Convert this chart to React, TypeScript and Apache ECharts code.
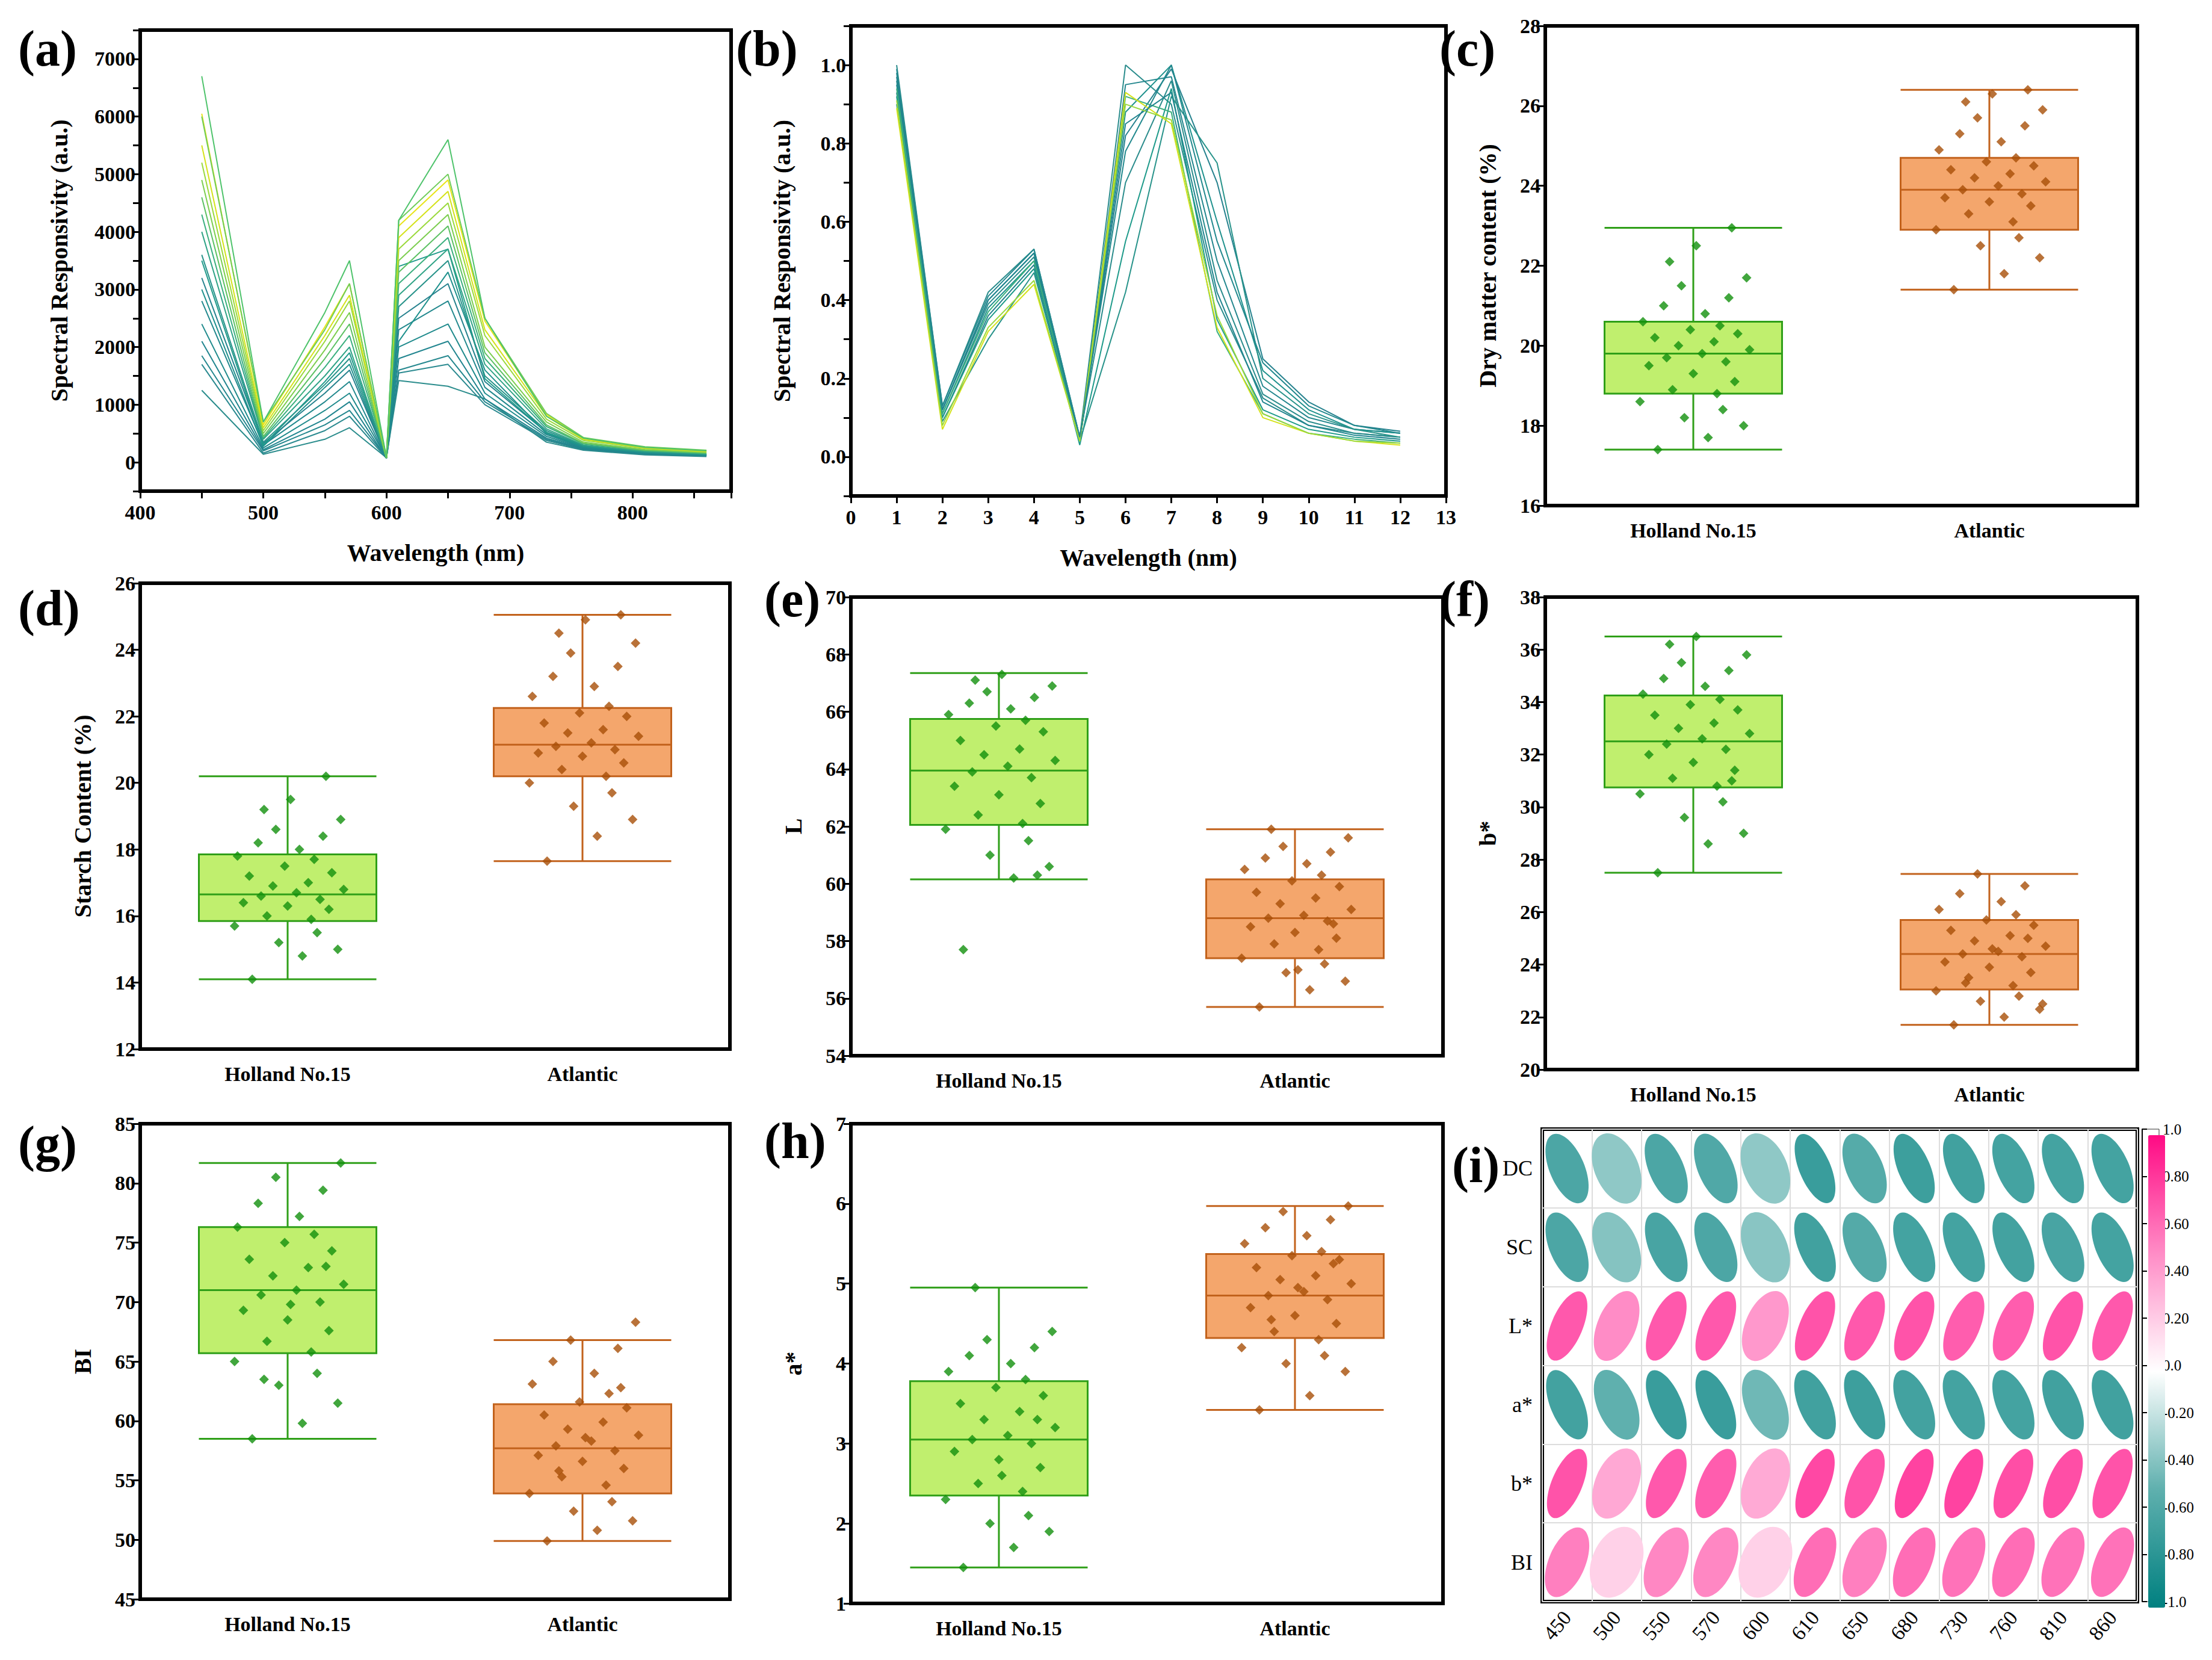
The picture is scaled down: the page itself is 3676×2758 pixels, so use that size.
import React, { useEffect, useRef } from 'react';
import * as echarts from 'echarts';

// ---- (a) raw spectra ----
const wavelengths = [450, 500, 550, 570, 600, 610, 650, 680, 730, 760, 810, 860];
const rawSpectra = [
  [1250, 140, 400, 600, 80, 1420, 1320, 1100, 350, 210, 130, 100],
  [1700, 160, 550, 800, 70, 1550, 1700, 1000, 380, 220, 140, 110],
  [1850, 200, 650, 900, 80, 1600, 1850, 1050, 400, 230, 150, 120],
  [2100, 220, 750, 1050, 70, 1800, 2100, 1100, 420, 240, 150, 120],
  [2400, 250, 900, 1200, 80, 2000, 2400, 1200, 450, 250, 160, 130],
  [2800, 300, 1050, 1400, 70, 2300, 2800, 1300, 480, 260, 170, 130],
  [3000, 280, 1300, 1700, 70, 2100, 3300, 1600, 500, 270, 170, 130],
  [3200, 330, 1200, 1600, 80, 2500, 3100, 1400, 520, 280, 180, 140],
  [3500, 300, 1400, 1900, 80, 3400, 3700, 1450, 520, 280, 170, 130],
  [3600, 350, 1350, 1800, 70, 2700, 3500, 1500, 550, 290, 180, 140],
  [4000, 400, 1500, 2000, 80, 2900, 3700, 1700, 580, 300, 190, 150],
  [4300, 420, 1650, 2200, 90, 3100, 3900, 1800, 620, 320, 200, 150],
  [4600, 450, 1800, 2400, 80, 3300, 4100, 1900, 650, 330, 210, 160],
  [4900, 500, 1950, 2600, 80, 3500, 4300, 2000, 700, 350, 220, 170],
  [5200, 550, 2100, 2800, 90, 3700, 4500, 2200, 750, 380, 240, 180],
  [5500, 600, 2200, 2900, 80, 3900, 4700, 2300, 800, 400, 250, 190],
  [6050, 650, 2350, 3100, 90, 4100, 4900, 2450, 830, 420, 260, 200],
  [6000, 700, 2300, 3100, 80, 4200, 5000, 2500, 850, 430, 270, 210],
  [6700, 700, 2600, 3500, 90, 4200, 5600, 2500, 800, 420, 260, 200],
];
const rawColors = [
  '#2a8c8c', '#2b8a90', '#24878e', '#21858f', '#1f8a8c', '#23898e', '#1f918d', '#26828e',
  '#1e9a8a', '#28938a', '#2fa386', '#3aaf7e', '#5cc163', '#7cce4f', '#9ad93c', '#d4e21a',
  '#e8e419', '#6fcc58', '#4ec36b',
];

// ---- (b) normalised spectra ----
const bandIndex = [1, 2, 3, 4, 5, 6, 7, 8, 9, 10, 11, 12];
const normSpectra = [
  [1.0, 0.13, 0.42, 0.53, 0.05, 1.0, 0.9, 0.4, 0.15, 0.08, 0.06, 0.05],
  [0.98, 0.12, 0.4, 0.52, 0.04, 0.95, 0.97, 0.5, 0.18, 0.1, 0.07, 0.06],
  [0.95, 0.11, 0.38, 0.5, 0.04, 0.88, 1.0, 0.6, 0.22, 0.12, 0.07, 0.06],
  [0.93, 0.1, 0.36, 0.49, 0.04, 0.82, 0.99, 0.7, 0.25, 0.14, 0.08, 0.065],
  [0.96, 0.12, 0.39, 0.51, 0.05, 0.7, 0.96, 0.45, 0.16, 0.09, 0.06, 0.05],
  [0.92, 0.1, 0.35, 0.48, 0.03, 0.55, 0.94, 0.35, 0.12, 0.07, 0.05, 0.04],
  [0.9, 0.09, 0.3, 0.47, 0.04, 0.42, 0.92, 0.75, 0.2, 0.11, 0.07, 0.05],
  [0.94, 0.11, 0.37, 0.5, 0.04, 0.92, 0.88, 0.32, 0.11, 0.06, 0.045, 0.035],
  [0.97, 0.12, 0.4, 0.52, 0.04, 0.85, 0.93, 0.42, 0.14, 0.08, 0.055, 0.045],
  [0.89, 0.07, 0.32, 0.44, 0.04, 0.93, 0.85, 0.33, 0.1, 0.06, 0.04, 0.03],
  [0.91, 0.08, 0.33, 0.45, 0.04, 0.9, 0.86, 0.36, 0.11, 0.06, 0.04, 0.035],
  [0.99, 0.13, 0.41, 0.53, 0.05, 0.78, 1.0, 0.55, 0.24, 0.13, 0.08, 0.06],
];
const normColors = [
  '#2a8c8c', '#24878e', '#1f918d', '#26828e', '#2a8c8c', '#1e9a8a', '#28938a',
  '#3aaf7e', '#21858f', '#d4e21a', '#9ad93c', '#23898e',
];

// ---- box plots ----
const groups = ['Holland No.15', 'Atlantic'];
const jitter = [-0.12, 0.05, 0.17, -0.03, 0.1, -0.18, 0.08, -0.07, 0.14, 0.0, -0.15, 0.11, -0.09, 0.03, 0.19,
  -0.05, 0.07, -0.13, 0.15, -0.01, 0.09, -0.17, 0.04, -0.1, 0.12, -0.04, 0.18, -0.08, 0.01, 0.13];

const dmcBox = [[17.4, 18.8, 19.8, 20.6, 22.95], [21.4, 22.9, 23.9, 24.7, 26.4]];
const dmcHolland = [17.4, 17.7, 18.0, 18.2, 18.4, 18.6, 18.8, 18.9, 19.1, 19.3, 19.5, 19.6, 19.7, 19.8, 19.9, 20.0, 20.1, 20.2, 20.3, 20.4, 20.5, 20.6, 20.8, 21.0, 21.2, 21.5, 21.7, 22.1, 22.5, 22.95];
const dmcAtlantic = [21.4, 21.8, 22.2, 22.5, 22.7, 22.9, 23.1, 23.3, 23.5, 23.6, 23.7, 23.8, 23.9, 24.0, 24.1, 24.2, 24.3, 24.4, 24.5, 24.6, 24.7, 24.9, 25.1, 25.3, 25.5, 25.7, 25.9, 26.1, 26.3, 26.4];

const scBox = [[14.1, 15.85, 16.65, 17.85, 20.2], [17.65, 20.2, 21.15, 22.25, 25.05]];
const scHolland = [14.1, 14.8, 15.0, 15.2, 15.5, 15.7, 15.9, 16.0, 16.2, 16.3, 16.4, 16.5, 16.6, 16.7, 16.8, 16.9, 17.0, 17.2, 17.3, 17.5, 17.7, 17.8, 18.0, 18.2, 18.4, 18.6, 18.9, 19.2, 19.5, 20.2];
const scAtlantic = [17.65, 18.4, 18.9, 19.3, 19.7, 20.0, 20.2, 20.4, 20.6, 20.8, 20.9, 21.0, 21.1, 21.2, 21.4, 21.5, 21.6, 21.8, 22.0, 22.1, 22.3, 22.6, 22.9, 23.2, 23.5, 23.9, 24.2, 24.5, 24.9, 25.05];

const lBox = [[60.15, 62.05, 63.95, 65.75, 67.35], [55.7, 57.4, 58.8, 60.15, 61.9]];
const lHolland = [57.7, 60.2, 60.6, 61.0, 61.5, 61.9, 62.1, 62.4, 62.8, 63.1, 63.4, 63.7, 63.9, 64.1, 64.3, 64.5, 64.7, 65.0, 65.3, 65.5, 65.7, 65.9, 66.1, 66.3, 66.5, 66.7, 66.9, 67.1, 67.3, 60.3];
const lAtlantic = [55.7, 56.3, 56.6, 56.9, 57.2, 57.4, 57.7, 57.9, 58.1, 58.3, 58.5, 58.7, 58.8, 58.9, 59.1, 59.3, 59.5, 59.7, 59.9, 60.1, 60.3, 60.5, 60.7, 60.9, 61.1, 61.3, 61.6, 61.9, 57.0, 58.6];

const bBox = [[27.5, 30.75, 32.5, 34.25, 36.5], [21.7, 23.05, 24.4, 25.7, 27.45]];
const bHolland = [27.5, 28.6, 29.0, 29.6, 30.2, 30.5, 30.8, 31.1, 31.4, 31.7, 32.0, 32.2, 32.4, 32.6, 32.8, 33.0, 33.2, 33.5, 33.7, 33.9, 34.1, 34.3, 34.6, 34.9, 35.2, 35.5, 35.8, 36.2, 36.5, 31.0];
const bAtlantic = [21.7, 22.0, 22.3, 22.6, 22.8, 23.0, 23.2, 23.5, 23.7, 23.9, 24.1, 24.3, 24.4, 24.5, 24.7, 24.9, 25.1, 25.3, 25.5, 25.7, 25.9, 26.1, 26.4, 26.7, 27.0, 27.45, 22.5, 23.3, 24.6, 25.0];

const biBox = [[58.5, 65.7, 71.0, 76.3, 81.7], [49.9, 53.9, 57.7, 61.4, 66.8]];
const biHolland = [58.5, 59.8, 61.5, 63.0, 64.0, 65.0, 65.8, 66.7, 67.6, 68.5, 69.3, 70.0, 70.6, 71.0, 71.5, 72.2, 72.9, 73.6, 74.3, 75.0, 75.7, 76.3, 77.2, 78.3, 79.4, 80.5, 81.7, 63.5, 69.8, 73.0];
const biAtlantic = [49.9, 50.8, 51.6, 52.4, 53.2, 53.9, 54.6, 55.3, 56.0, 56.6, 57.1, 57.5, 57.9, 58.3, 58.8, 59.3, 59.9, 60.5, 61.1, 61.6, 62.3, 63.1, 64.0, 65.0, 66.1, 66.8, 68.3, 55.8, 58.6, 62.8];

const aBox = [[1.45, 2.35, 3.05, 3.78, 4.95], [3.42, 4.32, 4.85, 5.37, 5.97]];
const aHolland = [1.45, 1.7, 1.9, 2.0, 2.1, 2.3, 2.4, 2.5, 2.7, 2.8, 2.9, 3.0, 3.05, 3.1, 3.2, 3.3, 3.4, 3.5, 3.6, 3.7, 3.8, 3.9, 4.0, 4.1, 4.2, 4.3, 4.4, 4.95, 2.6, 3.3];
const aAtlantic = [3.42, 3.6, 3.9, 4.0, 4.1, 4.2, 4.3, 4.4, 4.5, 4.6, 4.7, 4.8, 4.85, 4.9, 5.0, 5.05, 5.1, 5.2, 5.3, 5.35, 5.4, 5.5, 5.6, 5.7, 5.8, 5.9, 5.97, 4.55, 4.95, 5.25];

// ---- (i) correlation ----
const corrBands = ['450', '500', '550', '570', '600', '610', '650', '680', '730', '760', '810', '860'];
const corrTraits = ['DC', 'SC', 'L*', 'a*', 'b*', 'BI'];
const corrValues = [
  [-0.6, -0.35, -0.6, -0.58, -0.35, -0.7, -0.55, -0.68, -0.66, -0.64, -0.64, -0.64],
  [-0.6, -0.38, -0.62, -0.6, -0.37, -0.66, -0.56, -0.64, -0.64, -0.65, -0.62, -0.64],
  [0.7, 0.5, 0.7, 0.7, 0.45, 0.72, 0.7, 0.72, 0.68, 0.68, 0.72, 0.7],
  [-0.65, -0.5, -0.7, -0.7, -0.45, -0.66, -0.68, -0.65, -0.64, -0.64, -0.66, -0.66],
  [0.72, 0.38, 0.7, 0.68, 0.37, 0.76, 0.72, 0.78, 0.78, 0.74, 0.74, 0.72],
  [0.55, 0.2, 0.52, 0.52, 0.2, 0.62, 0.55, 0.62, 0.6, 0.62, 0.6, 0.6],
];

const FONT = 'Liberation Serif';
const GREEN = { fill: '#c0ef6e', border: '#2f9f18', dot: '#11900d' };
const ORANGE = { fill: '#f4a66c', border: '#c2621c', dot: '#a84f08' };

const frame = { show: true, borderColor: '#000', borderWidth: 6, backgroundColor: 'transparent' };
const axLine = { show: true, onZero: false, lineStyle: { color: '#000', width: 5 } };
const axTick = { show: true, length: 12, lineStyle: { color: '#000', width: 3 } };
const label = (extra = {}) => ({ color: '#000', fontFamily: FONT, fontWeight: 'bold', fontSize: 34, ...extra });
const nameStyle = { color: '#000', fontFamily: FONT, fontWeight: 'bold', fontSize: 40 };

const App: React.FC = () => {
  const ref = useRef<HTMLDivElement | null>(null);

  useEffect(() => {
    if (!ref.current) return;
    const chart = echarts.init(ref.current, undefined, { renderer: 'svg' });

    const grid: any[] = [];
    const xAxis: any[] = [];
    const yAxis: any[] = [];
    const series: any[] = [];

    // (a)
    grid.push({ left: 225, top: 42, width: 982, height: 766, ...frame });
    xAxis.push({
      type: 'value', gridIndex: 0, min: 400, max: 880, interval: 50, axisLine: axLine, axisTick: axTick, splitLine: { show: false },
      axisLabel: label({ margin: 18, formatter: (v: number) => (v % 100 === 0 ? String(v) : '') }),
      name: 'Wavelength (nm)', nameLocation: 'middle', nameGap: 82, nameTextStyle: nameStyle,
    });
    yAxis.push({
      type: 'value', gridIndex: 0, min: -500, max: 7500, interval: 500, axisLine: axLine, axisTick: axTick, splitLine: { show: false },
      axisLabel: label({ formatter: (v: number) => (v >= 0 && v % 1000 === 0 && v < 7500 ? String(v) : '') }),
      name: 'Spectral Responsivity (a.u.)', nameLocation: 'middle', nameGap: 115, nameTextStyle: nameStyle,
    });
    rawSpectra.forEach((row, i) => series.push({
      type: 'line', xAxisIndex: 0, yAxisIndex: 0, symbol: 'none', data: row.map((v, j) => [wavelengths[j], v]),
      lineStyle: { width: 2, color: rawColors[i] }, z: i,
    }));

    // (b)
    grid.push({ left: 1406, top: 35, width: 989, height: 781, ...frame });
    xAxis.push({
      type: 'value', gridIndex: 1, min: 0, max: 13, interval: 1, axisLine: axLine, axisTick: axTick, splitLine: { show: false },
      axisLabel: label({ margin: 18 }),
      name: 'Wavelength (nm)', nameLocation: 'middle', nameGap: 82, nameTextStyle: nameStyle,
    });
    yAxis.push({
      type: 'value', gridIndex: 1, min: -0.1, max: 1.1, interval: 0.1, axisLine: axLine, axisTick: axTick, splitLine: { show: false },
      axisLabel: label({ formatter: (v: number) => { const k = Math.round(v * 10); return k >= 0 && k <= 10 && k % 2 === 0 ? (k / 10).toFixed(1) : ''; } }),
      name: 'Spectral Responsivity (a.u.)', nameLocation: 'middle', nameGap: 95, nameTextStyle: nameStyle,
    });
    normSpectra.forEach((row, i) => series.push({
      type: 'line', xAxisIndex: 1, yAxisIndex: 1, symbol: 'none', data: row.map((v, j) => [bandIndex[j], v]),
      lineStyle: { width: 2, color: normColors[i] },
    }));

    // box panels
    const boxPanels = [
      { left: 2560, top: 35, width: 984, height: 797, min: 16, max: 28, interval: 2, name: 'Dry matter content (%)', box: dmcBox, pts: [dmcHolland, dmcAtlantic] },
      { left: 225, top: 961, width: 980, height: 774, min: 12, max: 26, interval: 2, name: 'Starch Content (%)', box: scBox, pts: [scHolland, scAtlantic] },
      { left: 1406, top: 984, width: 984, height: 762, min: 54, max: 70, interval: 2, name: 'L', box: lBox, pts: [lHolland, lAtlantic] },
      { left: 2560, top: 984, width: 984, height: 785, min: 20, max: 38, interval: 2, name: 'b*', box: bBox, pts: [bHolland, bAtlantic] },
      { left: 225, top: 1859, width: 980, height: 790, min: 45, max: 85, interval: 5, name: 'BI', box: biBox, pts: [biHolland, biAtlantic] },
      { left: 1406, top: 1859, width: 984, height: 797, min: 1, max: 7, interval: 1, name: 'a*', box: aBox, pts: [aHolland, aAtlantic] },
    ];
    boxPanels.forEach((p) => {
      const g = grid.length;
      grid.push({ left: p.left, top: p.top, width: p.width, height: p.height, ...frame });
      const xc = xAxis.length;
      xAxis.push({
        type: 'category', gridIndex: g, data: groups, axisLine: axLine, axisTick: { show: false }, splitLine: { show: false },
        axisLabel: label({ margin: 24 }),
      });
      const xv = xAxis.length;
      xAxis.push({ type: 'value', gridIndex: g, min: 0, max: 2, show: false });
      const yi = yAxis.length;
      yAxis.push({
        type: 'value', gridIndex: g, min: p.min, max: p.max, interval: p.interval, axisLine: axLine, axisTick: axTick, splitLine: { show: false },
        axisLabel: label(), name: p.name, nameLocation: 'middle', nameGap: 76, nameTextStyle: nameStyle,
      });
      const cols = [GREEN, ORANGE];
      series.push({
        type: 'boxplot', xAxisIndex: xc, yAxisIndex: yi, boxWidth: [295, 295],
        data: p.box.map((b, i) => ({ value: b, itemStyle: { color: cols[i].fill, borderColor: cols[i].border, borderWidth: 3 } })),
      });
      p.pts.forEach((arr, i) => series.push({
        type: 'scatter', xAxisIndex: xv, yAxisIndex: yi, symbol: 'diamond', symbolSize: 16, z: 5,
        itemStyle: { color: cols[i].dot },
        data: arr.map((v, k) => [i + 0.5 + jitter[k % jitter.length], v]),
      }));
    });

    // (i) correlation ellipses
    const gi = grid.length;
    grid.push({ left: 2555, top: 1868, width: 989, height: 785, ...frame });
    const xi = xAxis.length;
    xAxis.push({
      type: 'category', gridIndex: gi, data: corrBands, axisLine: { show: false }, axisTick: { show: false },
      splitLine: { show: true, interval: 0, lineStyle: { color: '#ddd', width: 2 } },
      axisLabel: { color: '#000', fontFamily: FONT, fontSize: 34, rotate: 50, margin: 20, interval: 0 },
    });
    const yiC = yAxis.length;
    yAxis.push({
      type: 'category', gridIndex: gi, data: corrTraits, inverse: true, axisLine: { show: false }, axisTick: { show: false },
      splitLine: { show: true, interval: 0, lineStyle: { color: '#ddd', width: 2 } },
      axisLabel: { color: '#000', fontFamily: FONT, fontSize: 36, margin: 16 },
    });
    const corrData: number[][] = [];
    corrValues.forEach((row, r) => row.forEach((v, c) => corrData.push([c, r, v])));
    const customIndex = series.length;
    series.push({
      type: 'custom', xAxisIndex: xi, yAxisIndex: yiC, data: corrData,
      renderItem: (params: any, api: any) => {
        const c = api.coord([api.value(0), api.value(1)]);
        const s = api.size([1, 1]);
        const r = api.value(2);
        const a = s[1] * 0.47;
        const b = 17 + 30 * (1 - Math.abs(r));
        return {
          type: 'ellipse', x: c[0], y: c[1], rotation: r > 0 ? -0.4 : 0.4,
          shape: { cx: 0, cy: 0, rx: b, ry: a }, style: { fill: api.visual('color') },
        };
      },
    });

    // colorbar axis
    const gc = grid.length;
    grid.push({ left: 3552, top: 1868, width: 28, height: 785, show: true, borderColor: '#333', borderWidth: 1, backgroundColor: 'transparent' });
    xAxis.push({ type: 'value', gridIndex: gc, show: false, min: 0, max: 1 });
    yAxis.push({
      type: 'value', gridIndex: gc, position: 'right', min: -1, max: 1, interval: 0.2,
      axisLine: { show: true, lineStyle: { color: '#000', width: 2 } }, axisTick: { show: true, length: 8, lineStyle: { color: '#000', width: 2 } },
      splitLine: { show: false },
      axisLabel: {
        color: '#000', fontFamily: FONT, fontSize: 25, margin: 6,
        formatter: (v: number) => { const k = Math.round(v * 10); return k % 5 === 0 ? (k / 10).toFixed(1) : (k / 10).toFixed(2); },
      },
    });
    series.push({ type: 'scatter', xAxisIndex: xAxis.length - 1, yAxisIndex: yAxis.length - 1, data: [] });

    const letters = [
      ['(a)', 22, 30], ['(b)', 1215, 30], ['(c)', 2384, 30],
      ['(d)', 22, 960], ['(e)', 1262, 945], ['(f)', 2384, 945],
      ['(g)', 22, 1850], ['(h)', 1262, 1845], ['(i)', 2405, 1885],
    ];

    chart.setOption({
      animation: false,
      backgroundColor: '#fff',
      grid, xAxis, yAxis, series,
      visualMap: {
        type: 'continuous', min: -1, max: 1, dimension: 2, seriesIndex: customIndex,
        left: 3547, top: 1863, itemWidth: 28, itemHeight: 785, text: ['', ''], calculable: false, showLabel: false,
        inRange: { color: ['#008080', '#5fb0ae', '#ffffff', '#ff8cc6', '#ff0a84'] },
      },
      graphic: letters.map(([t, x, y]) => ({
        type: 'text', left: x, top: y,
        style: { text: t, fontFamily: FONT, fontWeight: 'bold', fontSize: 84, fill: '#000' },
      })),
    });

    return () => chart.dispose();
  }, []);

  return <div ref={ref} style={{ width: 3660, height: 2742 }} />;
};

export default App;
